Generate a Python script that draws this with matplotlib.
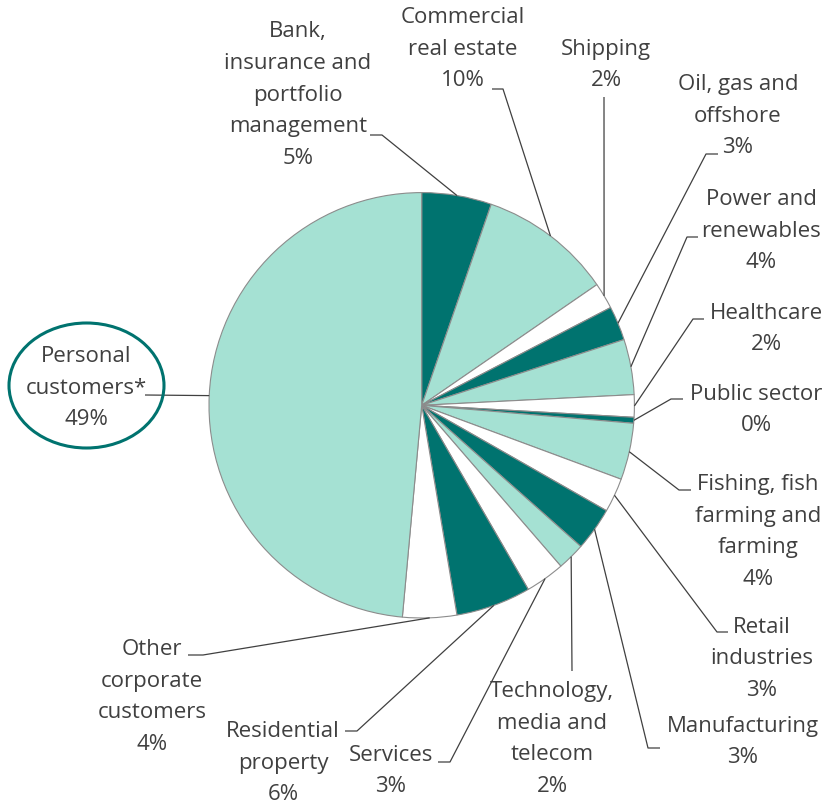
import matplotlib.pyplot as plt
from matplotlib.patches import Ellipse
import numpy as np

# canvas in pixels
W, H = 825, 805

# 1. Data
sectors = [
    "Bank,\ninsurance and\nportfolio\nmanagement",
    "Commercial\nreal estate",
    "Shipping",
    "Oil, gas and\noffshore",
    "Power and\nrenewables",
    "Healthcare",
    "Public sector",
    "Fishing, fish\nfarming and\nfarming",
    "Retail\nindustries",
    "Manufacturing",
    "Technology,\nmedia and\ntelecom",
    "Services",
    "Residential\nproperty",
    "Other\ncorporate\ncustomers",
    "Personal\ncustomers*",
]
shares = [5.3, 10.1, 2.0, 2.6, 4.2, 1.7, 0.45, 4.3, 2.6, 3.3, 2.1, 3.0, 5.7, 4.1, 48.55]

# 2. Styles / layout
dark = "#00736F"
light = "#A5E1D3"
white = "#FFFFFF"
colors = [dark, light, white, dark, light, white, dark, light, white,
          dark, light, white, dark, white, light]
text_col = "#404040"

cx, cy, r = 421.7, 405.3, 212.7

# text centre (x, y), leader start (x0, y0), knee (x1, y1) -- pixel coords
layout = [
    (298, 95, 370, 135, 382, 135),
    (463, 49, 492, 89, 503, 89),
    (606, 65, 604, 97, 604, 97),
    (738, 116, 718, 154, 706, 154),
    (761, 231, 698, 237, 687, 237),
    (766, 329, 704, 319, 693, 319),
    (756, 410, 683, 399, 671, 399),
    (758, 532, 691, 490, 679, 490),
    (762, 659, 728, 632, 717, 632),
    (743, 742, 660, 748, 648, 748),
    (552, 739, 572, 671, 572, 671),
    (391, 771, 438, 762, 450, 762),
    (283, 763, 345, 731, 357, 731),
    (152, 697, 188, 655, 203, 655),
    (86, 388, 145, 395, 145, 395),
]


def Y(y):
    return H - y


plt.rcParams["font.family"] = ["Open Sans", "DejaVu Sans"]

fig = plt.figure(figsize=(W / 100, H / 100), dpi=100)
ax = fig.add_axes([0, 0, 1, 1])

wedges, _ = ax.pie(shares, colors=colors, startangle=90, counterclock=False,
                   center=(cx, Y(cy)), radius=r,
                   wedgeprops=dict(edgecolor="#8C8C8C", linewidth=0.8))
# pie() sets its own limits, so put the pixel frame back afterwards
ax.set_xlim(0, W)
ax.set_ylim(0, H)
ax.set_aspect("equal")
ax.axis("off")

total = sum(shares)
for w, name, v, (tx, ty, x0, y0, x1, y1) in zip(wedges, sectors, shares, layout):
    mid = np.deg2rad((w.theta1 + w.theta2) / 2)
    ex = cx + r * np.cos(mid)
    ey = Y(cy) + r * np.sin(mid)
    ax.plot([x0, x1, ex], [Y(y0), Y(y1), ey], color="#404040", lw=0.9,
            solid_capstyle="butt", zorder=1)
    pct = v / total * 100
    ax.text(tx, Y(ty), f"{name}\n{pct:.0f}%", ha="center", va="center",
            multialignment="center", fontsize=16, color=text_col,
            linespacing=1.67)

# ring round the personal customers label
ax.add_patch(Ellipse((86.5, Y(385.5)), 155, 125, fill=False,
                     edgecolor=dark, lw=2.2, zorder=3))

plt.savefig("out.png", dpi=100)
